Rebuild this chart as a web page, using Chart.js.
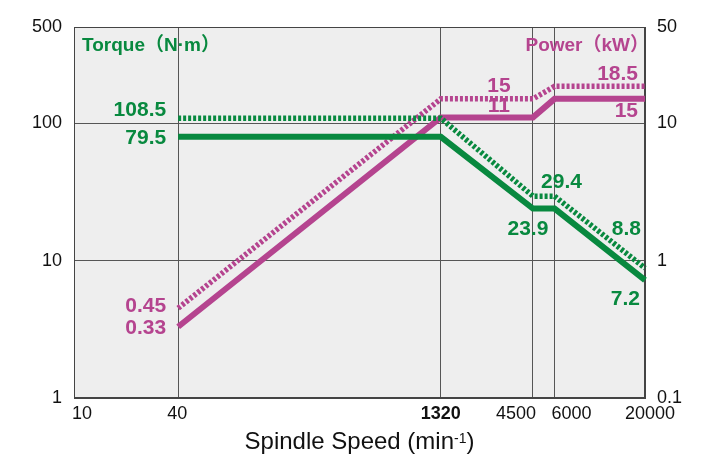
<!DOCTYPE html>
<html><head><meta charset="utf-8">
<script src="https://cdn.jsdelivr.net/npm/chart.js@4/dist/chart.umd.min.js"></script>
<style>html,body{margin:0;padding:0;background:#fff;}canvas{display:block;}</style>
</head><body>
<canvas id="c" width="706" height="454"></canvas>
<script>
// ---- data ----
const speeds = [40, 1320, 4500, 6000, 20000];
const torqueCont = [79.5, 79.5, 23.9, 23.9, 7.2];
const torqueShort = [108.5, 108.5, 29.4, 29.4, 8.8];
const powerCont = [0.33, 11, 11, 15, 15];
const powerShort = [0.45, 15, 15, 18.5, 18.5];
const xTicks = [10, 40, 1320, 4500, 6000, 20000];
const yLeftTicks = [1, 10, 100, 500];
const yRightTicks = [0.1, 1, 10, 50];
const torqueTitle = 'Torque（N·m）';
const powerTitle = 'Power（kW）';
const xTitleMain = 'Spindle Speed (min';
const xTitleSup = '-1';
const xTitleEnd = ')';

const GREEN = '#08893f';
const MAGENTA = '#b5448f';
const FONT = "'Liberation Sans', Arial, 'Noto Sans CJK JP', sans-serif";

function pts(ys){ return speeds.map((s,i)=>({x:s, y:ys[i]})); }

const datasets = [
  {label:'Torque cont', data:pts(torqueCont), yAxisID:'y', borderColor:GREEN, borderWidth:6, borderCapStyle:'butt', borderJoinStyle:'miter'},
  {label:'Torque short', data:pts(torqueShort), yAxisID:'y', borderColor:GREEN, borderWidth:5.5, borderDash:[3,2], borderCapStyle:'butt'},
  {label:'Power cont', data:pts(powerCont), yAxisID:'y2', borderColor:MAGENTA, borderWidth:6, borderCapStyle:'butt', borderJoinStyle:'miter'},
  {label:'Power short', data:pts(powerShort), yAxisID:'y2', borderColor:MAGENTA, borderWidth:5.5, borderDash:[3,2], borderCapStyle:'butt'}
].map(d=>Object.assign({pointRadius:0, fill:false, tension:0, clip:4}, d));

// annotation placement: dataset index, point index, align, pixel offsets
const annots = [
  {ds:1, i:0, align:'right', dx:-12, dy:-9, color:GREEN},
  {ds:0, i:0, align:'right', dx:-12, dy:0, color:GREEN},
  {ds:3, i:0, align:'right', dx:-12, dy:-3, color:MAGENTA},
  {ds:2, i:0, align:'right', dx:-12, dy:0, color:MAGENTA},
  {ds:3, i:2, align:'center', dx:-34, dy:-14, color:MAGENTA},
  {ds:2, i:2, align:'center', dx:-34, dy:-12.5, color:MAGENTA},
  {ds:3, i:4, align:'right', dx:-7, dy:-13, color:MAGENTA},
  {ds:2, i:4, align:'right', dx:-7, dy:11, color:MAGENTA},
  {ds:1, i:3, align:'center', dx:7, dy:-14.5, color:GREEN},
  {ds:0, i:2, align:'center', dx:-5, dy:19.5, color:GREEN},
  {ds:1, i:4, align:'right', dx:-4, dy:-40, color:GREEN},
  {ds:0, i:4, align:'right', dx:-5, dy:18, color:GREEN}
];
const xLabelShift = {10:8, 40:-1, 1320:0, 4500:-17, 6000:17, 20000:5};

const decor = {
  id:'decor',
  beforeDraw(chart){
    const {ctx, chartArea:a} = chart;
    ctx.save();
    ctx.fillStyle = '#eeeeee';
    ctx.fillRect(a.left, a.top, a.right-a.left, a.bottom-a.top);
    ctx.restore();
  },
  beforeDatasetsDraw(chart){
    const {ctx, chartArea:a, scales} = chart;
    ctx.save();
    ctx.strokeStyle = '#444';
    ctx.lineWidth = 1;
    ctx.strokeRect(Math.round(a.left)+0.5, Math.round(a.top)+0.5, Math.round(a.right-a.left)-1, Math.round(a.bottom-a.top)-1);
    // series titles
    ctx.font = 'bold 19px ' + FONT;
    ctx.textBaseline = 'middle';
    ctx.fillStyle = GREEN; ctx.textAlign = 'left';
    ctx.fillText(torqueTitle, a.left + 8, 46);
    ctx.fillStyle = MAGENTA; ctx.textAlign = 'right';
    ctx.fillText(powerTitle, a.right + 4, 46);
    // value labels
    ctx.font = 'bold 21px ' + FONT;
    annots.forEach(an=>{
      const ds = chart.data.datasets[an.ds];
      const p = ds.data[an.i];
      const ys = scales[ds.yAxisID];
      const px = scales.x.getPixelForValue(p.x) + an.dx;
      const py = ys.getPixelForValue(p.y) + an.dy;
      ctx.fillStyle = an.color; ctx.textAlign = an.align;
      ctx.fillText(String(p.y), px, py+1);
    });
    ctx.restore();
  },
  afterDraw(chart){
    const {ctx, chartArea:a, scales} = chart;
    ctx.save();
    ctx.fillStyle = '#111';
    ctx.textAlign = 'center'; ctx.textBaseline = 'middle';
    xTicks.forEach(v=>{
      ctx.font = (v===1320 ? 'bold ' : '') + '18px ' + FONT;
      ctx.fillText(String(v), scales.x.getPixelForValue(v) + (xLabelShift[v]||0), 414);
    });
    // axis title with superscript
    const big = '24px ' + FONT, small = '14px ' + FONT;
    ctx.font = big; const w1 = ctx.measureText(xTitleMain).width, w3 = ctx.measureText(xTitleEnd).width;
    ctx.font = small; const w2 = ctx.measureText(xTitleSup).width;
    let x = (a.left + a.right)/2 - (w1+w2+w3)/2;
    ctx.textAlign = 'left'; ctx.textBaseline = 'alphabetic';
    ctx.font = big; ctx.fillText(xTitleMain, x, 449); x += w1;
    ctx.font = small; ctx.fillText(xTitleSup, x, 443); x += w2;
    ctx.font = big; ctx.fillText(xTitleEnd, x, 449);
    ctx.restore();
  }
};

new Chart(document.getElementById('c'), {
  type:'line',
  data:{datasets},
  plugins:[decor],
  options:{
    responsive:false, animation:false, devicePixelRatio:1,
    layout:{padding:{top:27, left:0, right:0, bottom:0}},
    plugins:{legend:{display:false}, tooltip:{enabled:false}, title:{display:false}},
    scales:{
      x:{type:'logarithmic', min:10, max:20000,
        afterBuildTicks:s=>{s.ticks = xTicks.map(v=>({value:v}));},
        afterFit:s=>{s.height = 56;},
        ticks:{display:false},
        grid:{color:'#555', lineWidth:1, drawTicks:false},
        border:{color:'#444'}},
      y:{type:'logarithmic', position:'left', min:1, max:500,
        afterBuildTicks:s=>{s.ticks = yLeftTicks.map(v=>({value:v}));},
        afterFit:s=>{s.width = 74;},
        ticks:{color:'#111', padding:12, font:{size:18, family:FONT}, callback:v=>String(v)},
        grid:{color:'#555', lineWidth:1, drawTicks:false},
        border:{color:'#444'}},
      y2:{type:'logarithmic', position:'right', min:0.1, max:50,
        afterBuildTicks:s=>{s.ticks = yRightTicks.map(v=>({value:v}));},
        afterFit:s=>{s.width = 61;},
        ticks:{color:'#111', padding:12, font:{size:18, family:FONT}, callback:v=>String(v)},
        grid:{display:false, drawTicks:false},
        border:{color:'#444'}}
    }
  }
});
</script>
</body></html>
